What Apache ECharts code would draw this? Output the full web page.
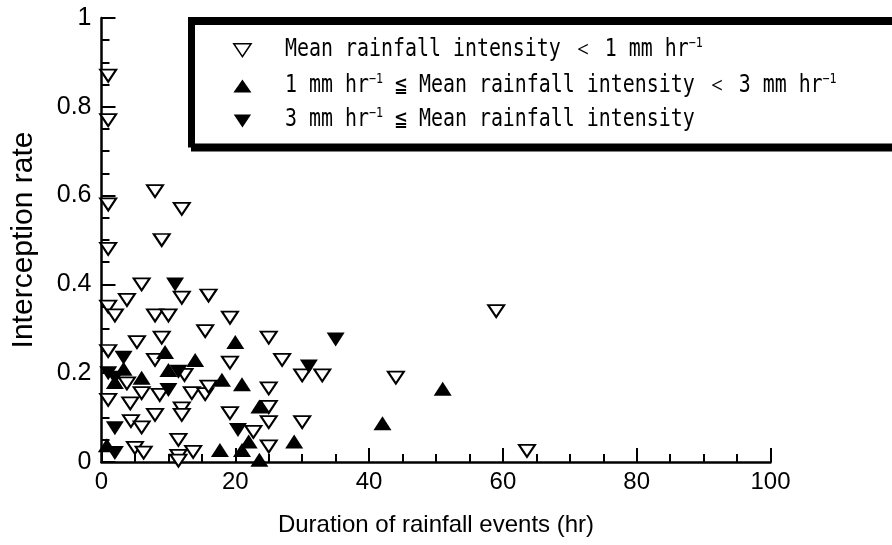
<!DOCTYPE html>
<html>
<head>
<meta charset="utf-8">
<script src="https://cdn.jsdelivr.net/npm/echarts@6/dist/echarts.min.js"></script>
<style>
  html, body { margin: 0; padding: 0; background: #fff; }
  #chart { width: 892px; height: 545px; }
</style>
</head>
<body>
<div id="chart"></div>
<script>
// Interception rate vs. duration of rainfall events, grouped by mean rainfall intensity
// Each point: [duration (hr), interception rate]

const lowIntensity = [ // mean intensity < 1 mm/hr
  [1, 0.87], [1, 0.77], [1, 0.58], [8, 0.61], [12, 0.57], [9, 0.50], [1, 0.48],
  [6, 0.40], [3.8, 0.365], [12, 0.37], [16, 0.375], [1, 0.35], [2, 0.33],
  [8, 0.33], [10, 0.33], [15.5, 0.295], [19.2, 0.325], [9, 0.28], [25, 0.28],
  [5.3, 0.27], [1, 0.25], [8, 0.23], [19.2, 0.224], [27, 0.23], [30, 0.195],
  [33, 0.195], [12.4, 0.196], [59, 0.34], [44, 0.19], [3.8, 0.177], [6, 0.155],
  [8.7, 0.151], [13.5, 0.155], [15.5, 0.153], [16, 0.17], [25, 0.166], [1, 0.14],
  [4.3, 0.132], [12, 0.121], [12, 0.106], [8, 0.106], [4.4, 0.092], [6, 0.078],
  [19.2, 0.11], [25, 0.124], [25, 0.09], [30, 0.09], [22.7, 0.068], [11.5, 0.05],
  [13.7, 0.023], [5, 0.032], [6.3, 0.021], [11.5, 0.014], [11.5, 0.003],
  [25, 0.035], [63.6, 0.025]
];

const midIntensity = [ // 1 mm/hr <= mean intensity < 3 mm/hr
  [9.5, 0.248], [20, 0.27], [14, 0.23], [3.3, 0.21], [6, 0.19], [10, 0.207],
  [2, 0.18], [18, 0.185], [21, 0.175], [51, 0.165], [23.6, 0.125], [42, 0.087],
  [22, 0.046], [28.8, 0.046], [17.7, 0.027], [21, 0.027], [23.6, 0.005],
  [0.8, 0.038]
];

const highIntensity = [ // mean intensity >= 3 mm/hr
  [11, 0.40], [3.3, 0.235], [1, 0.2], [2, 0.19], [11.5, 0.203], [10, 0.162],
  [35, 0.276], [31, 0.215], [20.4, 0.072], [2, 0.076], [2, 0.02]
];

const seriesNames = ['low', 'mid', 'high'];
const legendLabels = [
  '{t|Mean rainfall intensity ＜ 1 mm hr}{s|−1}',
  '{t|1 mm hr}{s|−1}{t| ≦ Mean rainfall intensity ＜ 3 mm hr}{s|−1}',
  '{t|3 mm hr}{s|−1}{t| ≦ Mean rainfall intensity}'
];

const xTitle = 'Duration of rainfall events (hr)';
const yTitle = 'Interception rate';

const chart = echarts.init(document.getElementById('chart'), null, { renderer: 'canvas' });

const sansFont = 'Liberation Sans, Arial, sans-serif';
const legendFont = 'DejaVu Sans Mono, Liberation Mono, monospace';
const downTriangle = 'path://M0,0L20,0L10,15Z';

// Legend box geometry (the box runs off the right edge of the canvas)
const legendLeft = 190, legendTop = 19;
const legendRowY = [50, 86, 120];
const legendTextX = 285;

// Condensed monospace captions placed next to the legend icons
const legendText = legendLabels.map((label, i) => ({
  type: 'text',
  x: legendTextX,
  y: legendRowY[i],
  scaleX: 0.83,
  z: 100,
  style: {
    text: label,
    verticalAlign: 'middle',
    align: 'left',
    rich: {
      t: { fontFamily: legendFont, fontSize: 24, fill: '#000', lineHeight: 26 },
      s: { fontFamily: legendFont, fontSize: 14, fill: '#000', lineHeight: 26, padding: [0, 0, 13, 0] }
    }
  }
}));

chart.setOption({
  animation: false,
  backgroundColor: '#fff',
  grid: { left: 101.5, right: 121.5, top: 18, bottom: 83, containLabel: false },
  xAxis: {
    type: 'value', min: 0, max: 100, interval: 20,
    name: xTitle, nameLocation: 'middle', nameGap: 51,
    nameTextStyle: { fontFamily: sansFont, fontSize: 24, color: '#000' },
    axisLine: { show: true, onZero: false, lineStyle: { color: '#000', width: 2.5 } },
    axisTick: { show: true, inside: true, length: 14, lineStyle: { color: '#000', width: 2 } },
    minorTick: { show: true, splitNumber: 4, length: 8, lineStyle: { color: '#000', width: 2 } },
    splitLine: { show: false },
    axisLabel: { fontFamily: sansFont, fontSize: 24, color: '#000', margin: 8 }
  },
  yAxis: {
    type: 'value', min: 0, max: 1, interval: 0.2,
    name: yTitle, nameLocation: 'middle', nameGap: 63,
    nameTextStyle: { fontFamily: sansFont, fontSize: 30, color: '#000' },
    axisLine: { show: true, onZero: false, lineStyle: { color: '#000', width: 2.5 } },
    axisTick: { show: true, inside: true, length: 14, lineStyle: { color: '#000', width: 2 } },
    minorTick: { show: true, splitNumber: 4, length: 8, lineStyle: { color: '#000', width: 2 } },
    splitLine: { show: false },
    axisLabel: { fontFamily: sansFont, fontSize: 25, color: '#000', margin: 10 }
  },
  legend: {
    orient: 'vertical',
    left: legendLeft, top: legendTop,
    padding: [24, 660, 18, 43],
    itemWidth: 18, itemHeight: 13, itemGap: 22,
    backgroundColor: '#fff',
    borderColor: '#000', borderWidth: 4,
    shadowColor: '#000', shadowBlur: 0, shadowOffsetX: 3, shadowOffsetY: 4,
    selectedMode: false,
    data: [
      { name: 'low', icon: downTriangle, itemStyle: { borderWidth: 1.5 } },
      { name: 'mid', icon: 'triangle' },
      { name: 'high', icon: downTriangle }
    ],
    formatter: () => '',
    textStyle: { fontSize: 1 }
  },
  graphic: legendText,
  series: [
    {
      name: seriesNames[0], type: 'scatter', data: lowIntensity,
      symbol: 'triangle', symbolRotate: 180, symbolSize: [16, 12],
      itemStyle: { color: '#fff', borderColor: '#000', borderWidth: 2, opacity: 1 },
      emphasis: { disabled: true }
    },
    {
      name: seriesNames[1], type: 'scatter', data: midIntensity,
      symbol: 'triangle', symbolSize: [18, 14],
      itemStyle: { color: '#000', opacity: 1 },
      emphasis: { disabled: true }
    },
    {
      name: seriesNames[2], type: 'scatter', data: highIntensity,
      symbol: 'triangle', symbolRotate: 180, symbolSize: [18, 14],
      itemStyle: { color: '#000', opacity: 1 },
      emphasis: { disabled: true }
    }
  ]
});
</script>
</body>
</html>
